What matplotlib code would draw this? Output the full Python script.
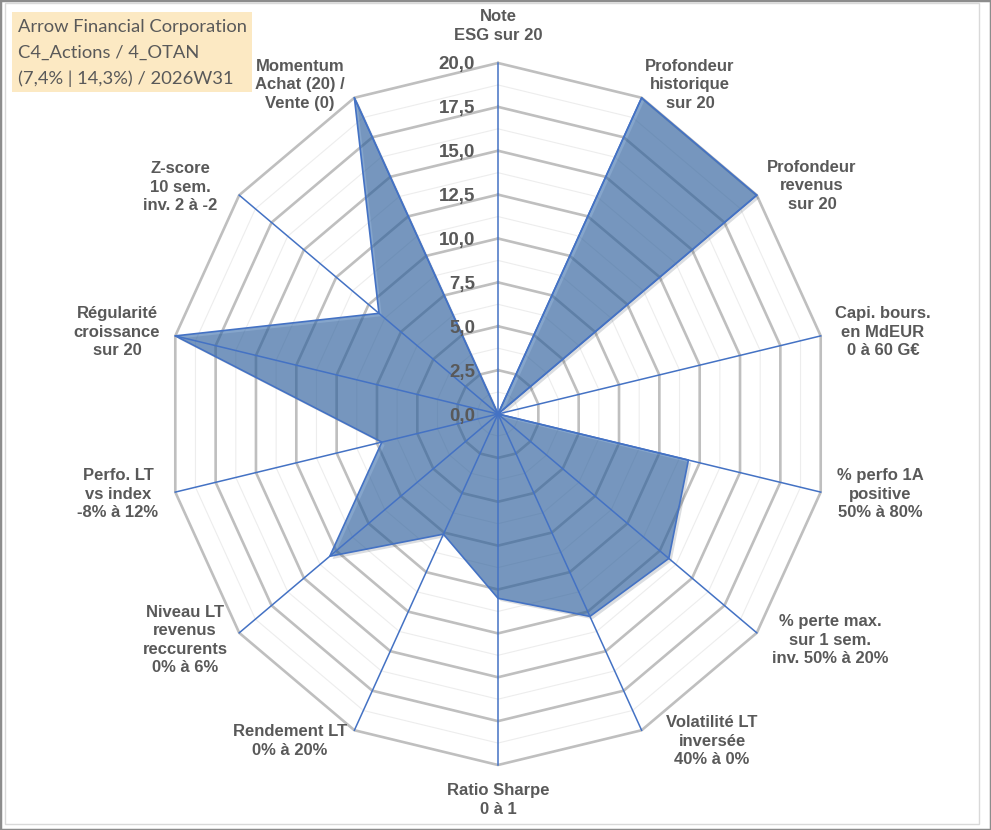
import numpy as np
import matplotlib.pyplot as plt
from matplotlib.patches import Rectangle
from matplotlib.transforms import offset_copy
import matplotlib.patheffects as pe

# axes of the radar, clockwise from the top
categories = [
    "Note\nESG sur 20",
    "Profondeur\nhistorique\nsur 20",
    "Profondeur\nrevenus\nsur 20",
    "Capi. bours.\nen MdEUR\n0 à 60 G€",
    "% perfo 1A\npositive\n50% à 80%",
    "% perte max.\nsur 1 sem.\ninv. 50% à 20%",
    "Volatilité LT\ninversée\n40% à 0%",
    "Ratio Sharpe\n0 à 1",
    "Rendement LT\n0% à 20%",
    "Niveau LT\nrevenus\nreccurents\n0% à 6%",
    "Perfo. LT\nvs index\n-8% à 12%",
    "Régularité\ncroissance\nsur 20",
    "Z-score\n10 sem.\ninv. 2 à -2",
    "Momentum\nAchat (20) /\nVente (0)",
]
scores = [0, 20, 20, 0, 11.8, 13.2, 12.8, 10.5, 7.6, 13.0, 7.2, 20, 9.2, 20]
r_ticks = [0, 2.5, 5, 7.5, 10, 12.5, 15, 17.5, 20]
title_lines = ["Arrow Financial Corporation",
               "C4_Actions / 4_OTAN",
               "(7,4% | 14,3%) / 2026W31"]

# label centres in pixels (layout only)
label_xy = [(498, 26), (690, 85), (812, 186), (883, 332), (880, 494),
            (830, 640), (712, 741), (498, 800), (290, 741), (185, 640),
            (118, 494), (117, 332), (180, 187), (300, 85)]

W, H = 991, 830
fig = plt.figure(figsize=(W / 100, H / 100), dpi=100)
ax = fig.add_axes([167 / W, 1 - 765 / H, 662 / W, 702 / H], projection='polar')
ax.set_aspect('auto')
ax.set_theta_zero_location('N')
ax.set_theta_direction(-1)
ax.set_ylim(0, 20)
ax.grid(False)
ax.spines['polar'].set_visible(False)
ax.set_xticks([])
ax.set_yticks([])
ax.patch.set_alpha(0)

n = len(categories)
angles = np.linspace(0, 2 * np.pi, n, endpoint=False)
ring = np.append(angles, angles[0])

# polygon grid
for r in np.array(r_ticks[:-1]) + 1.25:
    ax.plot(ring, [r] * (n + 1), color='#EDEDED', lw=0.8, zorder=1, clip_on=False)
for r in r_ticks[1:]:
    ax.plot(ring, [r] * (n + 1), color='#BFBFBF', lw=1.9, zorder=2, clip_on=False)

# data
vals = scores + scores[:1]
ax.fill(ring, vals, color='#2E64A6', alpha=0.58, lw=0, zorder=3,
        path_effects=[pe.SimplePatchShadow(offset=(2, -2), alpha=0.15), pe.Normal()])
ax.plot(ring, vals, color='#4472C4', lw=1.2, zorder=4, clip_on=False)

# spokes
for a in angles:
    ax.plot([a, a], [0, 20], color='#4472C4', lw=1.1, zorder=4, clip_on=False)

# radial tick labels
tr = offset_copy(ax.transData, fig=fig, x=-23, y=-2, units='dots')
for r in r_ticks:
    ax.text(0, r, f"{r:.1f}".replace('.', ','), transform=tr, ha='right', va='center',
            fontsize=13.5, fontweight='bold', color='#595959', family='Liberation Sans',
            zorder=6)

# axis labels
for lab, (x, y) in zip(categories, label_xy):
    fig.text(x / W, 1 - y / H, lab, ha='center', va='center', multialignment='center',
             fontsize=12, fontweight='bold', color='#595959', family='Liberation Sans',
             linespacing=1.3)

# title box
fig.patches.append(Rectangle((12 / W, 1 - 92 / H), 240 / W, 80 / H,
                             transform=fig.transFigure, facecolor='#FCE9C3',
                             edgecolor='none', zorder=0))
for i, line in enumerate(title_lines):
    fig.text(18 / W, 1 - (27 + 26 * i) / H, line, ha='left', va='center',
             fontsize=13.2, color='#595959', family='Lato')

# chart borders
fig.patches.append(Rectangle((5 / W, 6 / H), 974 / W, 821 / H, transform=fig.transFigure,
                             fill=False, edgecolor='#D9D9D9', lw=1))
fig.patches.append(Rectangle((0, 0), 1, 1, transform=fig.transFigure,
                             fill=False, edgecolor='#8C8C8C', lw=2.5))

fig.savefig('out.png', dpi=100)
